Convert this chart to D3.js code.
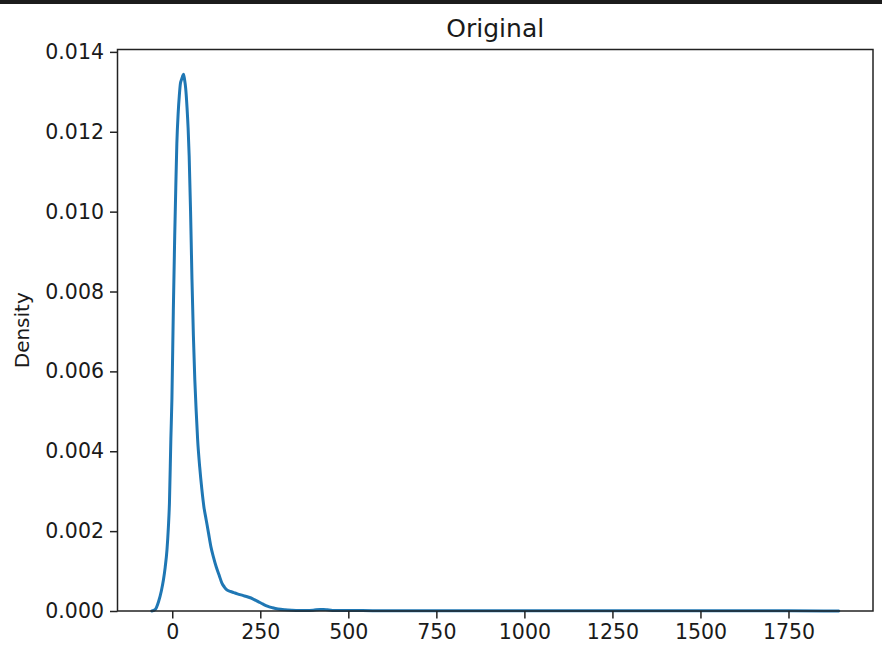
<!DOCTYPE html>
<html>
<head>
<meta charset="utf-8">
<script src="https://cdn.jsdelivr.net/npm/d3@7"></script>
<style>
  html, body { margin: 0; padding: 0; background: #fff; }
  svg { display: block; }
  text { font-family: "DejaVu Sans", sans-serif; fill: #1a1a1a; }
</style>
</head>
<body>
<svg id="chart" width="882" height="661"></svg>
<script>
// ---- data ----
const titleText = "Original";
const yLabelText = "Density";
const xTickValues = [0, 250, 500, 750, 1000, 1250, 1500, 1750];
const yTickValues = [0, 0.002, 0.004, 0.006, 0.008, 0.010, 0.012, 0.014];
const kdeX = [-58, -48, -39, -31, -25, -20, -15, -11, -8, -4, -1, 3, 7, 10, 13, 17, 20, 23, 26, 29, 32, 35, 38, 42, 45, 48, 52, 56, 60, 64, 68, 72, 78, 84, 90, 96, 103, 110, 117, 125, 133, 141, 148, 155, 165, 175, 185, 200, 215, 230, 245, 258, 270, 285, 300, 320, 340, 360, 380, 400, 420, 430, 440, 455, 475, 500, 520, 540, 580, 650, 750, 850, 950, 1050, 1150, 1250, 1350, 1450, 1550, 1650, 1750, 1850, 1893];
const kdeY = [0, 0.00004, 0.00023, 0.0005, 0.00078, 0.0011, 0.00153, 0.0021, 0.0027, 0.0043, 0.0053, 0.0075, 0.0094, 0.0106, 0.0117, 0.0125, 0.0129, 0.0132, 0.0133, 0.01338, 0.01344, 0.0133, 0.0131, 0.0126, 0.0121, 0.0114, 0.0100, 0.0083, 0.0069, 0.0058, 0.0050, 0.0043, 0.0036, 0.00305, 0.0026, 0.0023, 0.00195, 0.0016, 0.00135, 0.0011, 0.0009, 0.0007, 0.0006, 0.00053, 0.00049, 0.00046, 0.00043, 0.00039, 0.00035, 0.0003, 0.00023, 0.00017, 0.00012, 0.00008, 0.00005, 0.00003, 0.00002, 0.000015, 0.000015, 0.00002, 0.00004, 0.00004, 0.00003, 0.000015, 0.00001, 0.000012, 0.000015, 0.00001, 0.000008, 0.000006, 0.000004, 0.000005, 0.000006, 0.000008, 0.000006, 0.000005, 0.000004, 0.000004, 0.000005, 0.000006, 0.000004, 0.000002, 0];

// ---- layout ----
const svg = d3.select("#chart");
const W = 882, H = 661;
const m = { left: 117.5, right: 873, top: 49.5, bottom: 611 };

// dark strip at top of the screenshot
svg.append("rect").attr("x", 0).attr("y", 0).attr("width", W).attr("height", 4).attr("fill", "#1c1c1c");

const x = d3.scaleLinear().domain([-155.5, 1990]).range([m.left, m.right]);
const y = d3.scaleLinear().domain([0, 0.01406]).range([m.bottom, m.top]);

// line
const pts = kdeX.map((v, i) => [v, kdeY[i]]);
const line = d3.line().x(d => x(d[0])).y(d => y(d[1])).curve(d3.curveMonotoneX);
svg.append("path").datum(pts)
  .attr("d", line)
  .attr("fill", "none")
  .attr("stroke", "#1f77b4")
  .attr("stroke-width", 3)
  .attr("stroke-linejoin", "round")
  .attr("stroke-linecap", "round");

// axes
const xAxis = d3.axisBottom(x).tickValues(xTickValues).tickFormat(d3.format("d")).tickSizeInner(7.5).tickSizeOuter(0).tickPadding(6);
const yAxis = d3.axisLeft(y).tickValues(yTickValues).tickFormat(d3.format(".3f")).tickSizeInner(7.5).tickSizeOuter(0).tickPadding(6);

const gx = svg.append("g").attr("transform", `translate(0,${m.bottom})`).call(xAxis);
const gy = svg.append("g").attr("transform", `translate(${m.left},0)`).call(yAxis);
[gx, gy].forEach(g => {
  g.select(".domain").remove();
  g.selectAll(".tick line").attr("stroke", "#222").attr("stroke-width", 1.5);
  g.selectAll(".tick text").attr("font-family", "DejaVu Sans, sans-serif").attr("font-size", 20.5).attr("fill", "#1a1a1a");
});

// frame (spines)
svg.append("rect")
  .attr("x", m.left).attr("y", m.top)
  .attr("width", m.right - m.left).attr("height", m.bottom - m.top)
  .attr("fill", "none").attr("stroke", "#222").attr("stroke-width", 1.5);

// title
svg.append("text")
  .attr("x", (m.left + m.right) / 2).attr("y", 37)
  .attr("text-anchor", "middle")
  .attr("font-size", 25)
  .text(titleText);

// y label
svg.append("text")
  .attr("transform", `translate(29,${(m.top + m.bottom) / 2}) rotate(-90)`)
  .attr("text-anchor", "middle")
  .attr("font-size", 20)
  .text(yLabelText);
</script>
</body>
</html>
